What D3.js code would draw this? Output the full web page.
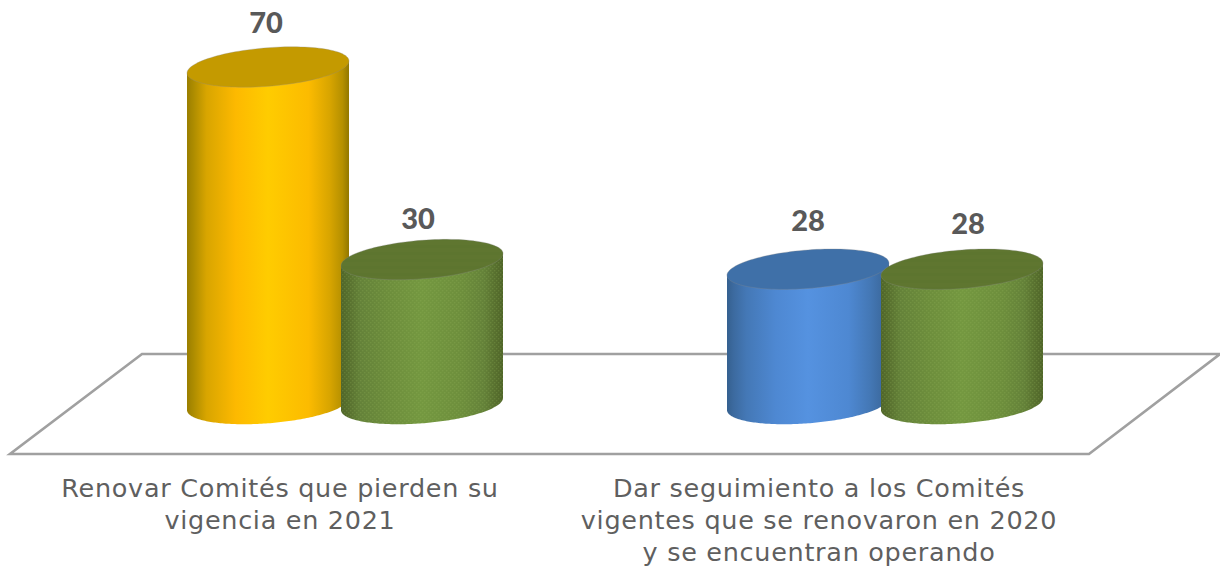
<!DOCTYPE html>
<html><head><meta charset="utf-8">
<script src="https://cdnjs.cloudflare.com/ajax/libs/d3/7.8.5/d3.min.js"></script>
<style>html,body{margin:0;padding:0;background:#fff;overflow:hidden}svg{display:block}</style>
</head><body><svg id="c" width="1220" height="567"></svg>
<script>
const categories = ["Renovar Comités que pierden su vigencia en 2021", "Dar seguimiento a los Comités vigentes que se renovaron en 2020 y se encuentran operando"];
const categoryLines = [["Renovar Comités que pierden su","vigencia en 2021"],["Dar seguimiento a los Comités","vigentes que se renovaron en 2020","y se encuentran operando"]];
const seriesNames = ["a","b"];
const seriesA = [70, 28];
const seriesB = [30, 28];
const pointColors = [["yellow","green"],["blue","green"]];

const svg=d3.select("#c");
const defs=svg.append("defs");
const stopAt=[0,.04,.12,.3,.5,.75,.88,.96,1];
const palettes={
 yellow:{stops:["#9a7e00","#ad8c00","#d8a500","#fdb900","#ffcc00","#fcbb00","#d8a500","#b59000","#927800"],top:"#c49a00"},
 blue:{stops:["#35608f","#3c6a9f","#4478b6","#4e88d2","#5592e0","#4e88d2","#4478b6","#3c6a9f","#335c8a"],top:"#3f70a8"},
 green:{stops:["#4f6529","#566e2d","#648239","#6d8e3c","#749840","#6d8e3c","#648239","#566e2d","#4f6529"],top:"#5f7630"}
};
Object.entries(palettes).forEach(([k,p])=>{
 const g=defs.append("linearGradient").attr("id","g-"+k).attr("x1",0).attr("x2",1).attr("y1",0).attr("y2",0);
 p.stops.forEach((c,i)=>g.append("stop").attr("offset",stopAt[i]).attr("stop-color",c));
});
const pat=defs.append("pattern").attr("id","dots").attr("width",4).attr("height",4).attr("patternUnits","userSpaceOnUse");
[[0,0],[2,2]].forEach(d=>pat.append("rect").attr("x",d[0]).attr("y",d[1]).attr("width",1.3).attr("height",1.3).attr("fill","#9cbc60").attr("opacity",.22));
const pat2=defs.append("pattern").attr("id","stripes").attr("width",6).attr("height",7).attr("patternUnits","userSpaceOnUse");
pat2.append("rect").attr("width",6).attr("height",3).attr("fill","#56702c").attr("opacity",.18);

const x0=d3.scaleBand().domain(categories).range([75,1155]);
const xLabel=d3.scaleBand().domain(categories).range([10.5,1088.5]);
const y=d3.scaleLinear().domain([0,70]).range([404,67]);

const floor=d3.line()([[142,354],[1220,354],[1089,454],[10,454]]);
svg.append("path").attr("d",floor+"Z").attr("fill","none").attr("stroke","#a0a0a0").attr("stroke-width",2.6).attr("stroke-linejoin","miter");

const hw=81, b=19.3, k=0.075;
const pt=(cx,cy,t)=>{const px=hw*Math.cos(t);return [cx+px,cy+b*Math.sin(t)-k*px];};
const ts=d3.range(0,121).map(i=>i/120);
const capPath=(cx,cy)=>d3.line()(ts.map(u=>pt(cx,cy,u*2*Math.PI)))+"Z";
const bodyPath=(cx,top,bot)=>d3.line()([...ts.map(u=>pt(cx,bot,Math.PI-u*Math.PI)),[cx+hw,top-k*hw],[cx-hw,top+k*hw]])+"Z";
const labelNudge=[[[-2,-34],[-4,-31]],[[0,-38],[6,-35]]];

categories.forEach((cat,ci)=>{
 const cc=x0(cat)+x0.bandwidth()/2;
 [seriesA[ci],seriesB[ci]].forEach((v,si)=>{
  const cx=cc+(si?77:-77), top=y(v), bot=y(0), kind=pointColors[ci][si];
  const gr=svg.append("g");
  const body=bodyPath(cx,top,bot);
  gr.append("path").attr("d",body).attr("fill",`url(#g-${kind})`);
  if(kind==="green") gr.append("path").attr("d",body).attr("fill","url(#dots)");
  gr.append("path").attr("d",capPath(cx,top)).attr("fill",palettes[kind].top).attr("stroke","#8a8a8a").attr("stroke-opacity",.3).attr("stroke-width",1);
  if(kind==="green") gr.append("path").attr("d",capPath(cx,top)).attr("fill","url(#stripes)");
  const nd=labelNudge[ci][si];
  svg.append("text").attr("x",cx+nd[0]).attr("y",top+nd[1]).attr("text-anchor","middle")
   .attr("font-family","Lato, 'Open Sans', sans-serif").attr("font-weight",900).attr("font-size",29).attr("fill","#595959").text(v);
 });
 const lx=xLabel(cat)+xLabel.bandwidth()/2;
 const txt=svg.append("text").attr("text-anchor","middle").attr("font-family","'DejaVu Sans', sans-serif").attr("font-size",25.5).attr("letter-spacing",0.7).attr("fill","#5f5f5f");
 categoryLines[ci].forEach((l,i)=>txt.append("tspan").attr("x",lx).attr("y",497+i*32).text(l));
});
</script></body></html>
